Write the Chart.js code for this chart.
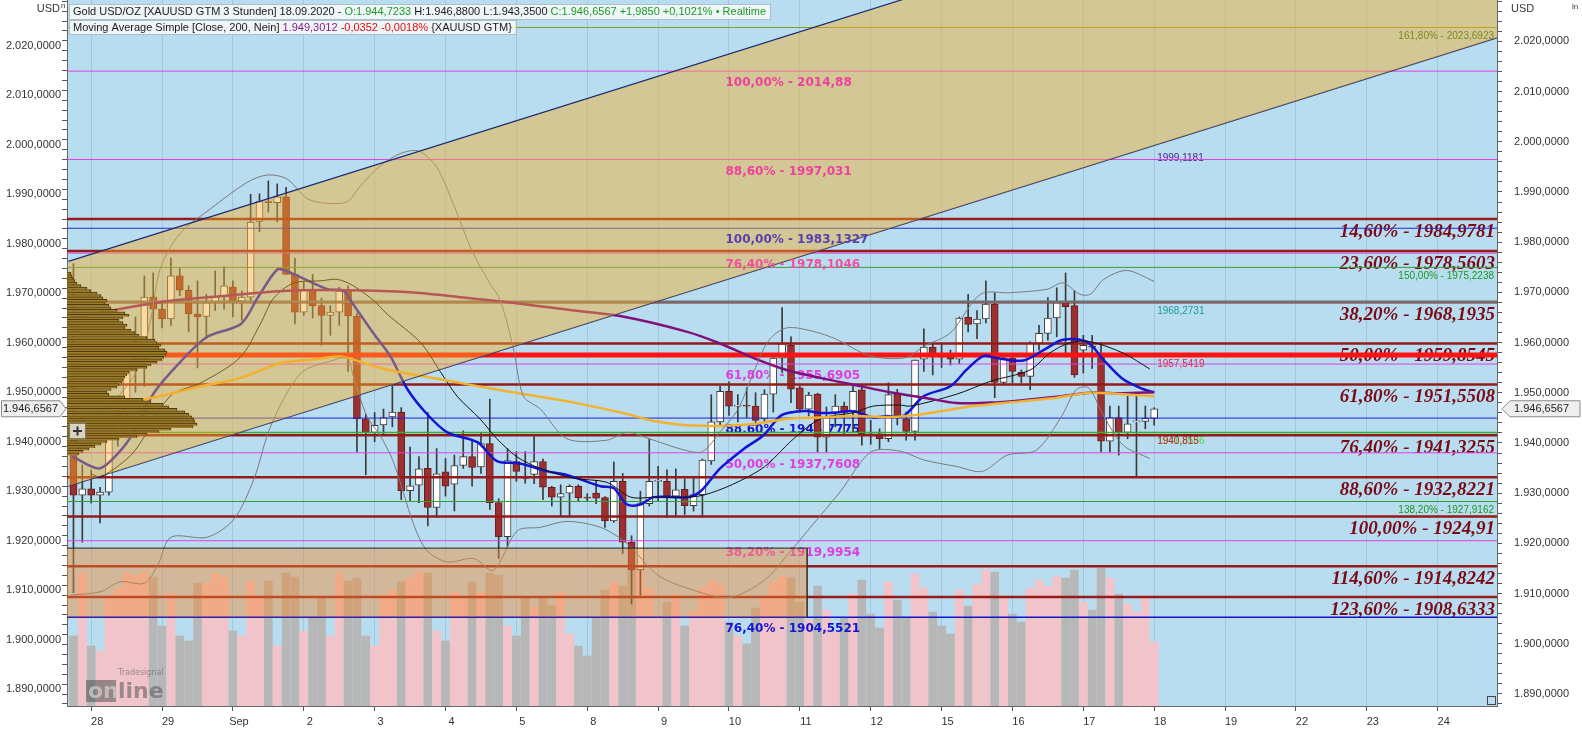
<!DOCTYPE html>
<html>
<head>
<meta charset="utf-8">
<script src="https://cdn.jsdelivr.net/npm/chart.js@4.4.0/dist/chart.umd.min.js"></script>
<style>
html, body { margin: 0; padding: 0; background: #fff; }
canvas { display: block; }
</style>
</head>
<body>
<canvas id="chart" width="1582" height="733"></canvas>
<script>
var dayLabels = ['28', '29', 'Sep', '2', '3', '4', '5', '8', '9', '10', '11', '12', '15', '16', '17', '18', '19', '22', '23', '24']
var dayTicks = [2, 10, 18, 26, 34, 42, 50, 58, 66, 74, 82, 90, 98, 106, 114, 122, 130, 138, 146, 154]

// 3h candles, XAUUSD
var opens = [
  1940.3, 1929.2, 1930.5, 1929.2, 1929.8, 1941.0, 1945.6, 1956.2, 1956.8, 1969.2,
  1966.8, 1964.8, 1973.5, 1970.6, 1965.8, 1965.3, 1968.1, 1969.3, 1971.3, 1968.4,
  1969.2, 1984.5, 1988.5, 1988.3, 1989.5, 1973.8, 1966.2, 1970.8, 1967.5, 1965.5,
  1966.2, 1970.5, 1965.4, 1944.6, 1941.9, 1943.4, 1945.0, 1946.0, 1930.1, 1931.2,
  1934.6, 1926.7, 1933.9, 1931.4, 1935.2, 1937.0, 1934.9, 1939.6, 1927.7, 1920.8,
  1936.0, 1933.0, 1933.4, 1936.0, 1930.8, 1928.8, 1929.6, 1931.0, 1928.8, 1929.6,
  1928.7, 1924.0, 1932.0, 1919.7, 1914.1, 1927.5, 1932.0, 1932.0, 1929.0, 1930.4,
  1927.1, 1929.3, 1936.1, 1944.0, 1950.2, 1947.2, 1947.3, 1947.2, 1944.6, 1949.6,
  1956.9, 1959.5, 1950.9, 1946.6, 1949.6, 1940.9, 1945.9, 1947.2, 1946.2, 1950.5,
  1941.6, 1941.6, 1940.6, 1949.6, 1944.6, 1942.1, 1956.7, 1959.1, 1957.2, 1957.8,
  1956.7, 1965.2, 1963.8, 1964.8, 1967.8, 1952.0, 1956.9, 1954.0, 1953.2, 1959.9,
  1961.9, 1965.0, 1968.3, 1967.5, 1958.5, 1959.3, 1957.8, 1940.1, 1944.9, 1941.9,
  1944.0, 1944.1, 1944.7233
]
var highs = [
  1976.0, 1935.3, 1934.3, 1930.8, 1941.5, 1946.6, 1958.0, 1965.2, 1973.5, 1974.1,
  1968.5, 1977.1, 1975.0, 1971.5, 1972.5, 1969.8, 1974.5, 1975.4, 1972.5, 1970.5,
  1990.0, 1990.1, 1992.7, 1992.1, 1991.4, 1977.1, 1972.3, 1973.8, 1969.0, 1967.5,
  1971.2, 1971.5, 1966.0, 1945.5, 1945.9, 1946.6, 1951.2, 1946.9, 1938.9, 1937.0,
  1945.9, 1938.6, 1936.6, 1937.3, 1942.2, 1940.3, 1941.9, 1948.6, 1928.5, 1938.6,
  1938.0, 1938.0, 1941.4, 1936.5, 1931.0, 1931.3, 1931.3, 1931.3, 1929.5, 1932.2,
  1928.9, 1935.9, 1933.6, 1921.0, 1930.0, 1940.6, 1935.0, 1934.3, 1934.5, 1932.5,
  1932.6, 1936.5, 1949.5, 1951.2, 1952.1, 1949.5, 1950.9, 1949.9, 1950.5, 1957.8,
  1967.1, 1961.2, 1951.2, 1950.0, 1949.8, 1947.0, 1949.5, 1948.0, 1951.3, 1951.0,
  1944.3, 1942.6, 1951.9, 1950.6, 1946.0, 1956.5, 1962.8, 1959.8, 1959.8, 1958.5,
  1965.2, 1969.8, 1966.5, 1972.5, 1970.1, 1957.5, 1957.2, 1954.5, 1960.2, 1963.5,
  1969.1, 1971.1, 1974.1, 1970.5, 1961.5, 1961.5, 1960.1, 1947.2, 1947.2, 1949.2,
  1949.2, 1947.2, 1946.88
]
var lows = [
  1909.5, 1919.7, 1927.6, 1923.6, 1929.2, 1939.1, 1944.5, 1950.0, 1951.2, 1960.8,
  1963.0, 1963.5, 1969.5, 1962.2, 1954.9, 1960.8, 1966.5, 1966.8, 1965.2, 1964.5,
  1968.3, 1982.4, 1986.4, 1984.4, 1973.8, 1963.8, 1965.5, 1965.0, 1959.5, 1961.5,
  1963.5, 1954.2, 1937.9, 1933.3, 1940.0, 1941.5, 1943.0, 1928.3, 1928.0, 1927.7,
  1923.0, 1924.7, 1929.0, 1926.0, 1934.6, 1931.0, 1933.6, 1926.3, 1916.4, 1918.8,
  1932.0, 1931.6, 1931.5, 1928.3, 1927.0, 1925.0, 1925.0, 1928.0, 1928.0, 1927.5,
  1922.7, 1923.7, 1917.4, 1907.2, 1909.0, 1927.0, 1928.0, 1924.7, 1925.0, 1925.3,
  1926.0, 1924.8, 1935.4, 1943.3, 1945.3, 1944.0, 1944.9, 1943.3, 1943.9, 1946.0,
  1953.9, 1947.9, 1945.9, 1945.2, 1937.9, 1937.9, 1943.0, 1941.5, 1942.0, 1939.3,
  1939.5, 1938.6, 1940.0, 1943.4, 1940.3, 1940.3, 1954.2, 1953.5, 1955.0, 1955.5,
  1955.8, 1962.2, 1960.8, 1964.0, 1948.9, 1951.5, 1951.9, 1951.9, 1950.5, 1958.5,
  1960.5, 1961.2, 1957.2, 1953.0, 1953.9, 1954.8, 1937.9, 1937.9, 1937.3, 1940.6,
  1932.9, 1942.6, 1943.35
]
var closes = [
  1929.2, 1930.5, 1929.2, 1929.8, 1940.9, 1945.4, 1956.2, 1956.8, 1969.2, 1966.8,
  1964.8, 1973.5, 1970.6, 1965.8, 1965.2, 1968.1, 1969.3, 1971.5, 1968.2, 1969.2,
  1984.4, 1988.5, 1988.3, 1989.5, 1973.8, 1966.2, 1970.8, 1967.5, 1965.5, 1966.2,
  1970.5, 1965.4, 1944.6, 1941.9, 1943.3, 1944.9, 1946.0, 1930.1, 1931.1, 1934.5,
  1926.7, 1933.5, 1931.0, 1935.2, 1937.0, 1934.8, 1939.6, 1927.7, 1920.8, 1936.2,
  1934.0, 1932.6, 1936.0, 1930.8, 1928.8, 1929.5, 1931.0, 1928.7, 1928.6, 1928.6,
  1924.0, 1932.0, 1919.7, 1914.1, 1927.5, 1932.0, 1932.1, 1929.0, 1930.3, 1927.1,
  1929.3, 1936.3, 1944.0, 1950.2, 1947.2, 1947.3, 1947.2, 1944.3, 1949.6, 1956.9,
  1959.8, 1950.6, 1946.6, 1949.4, 1940.9, 1944.9, 1947.2, 1945.9, 1950.2, 1941.6,
  1941.4, 1940.6, 1949.5, 1945.2, 1942.1, 1956.5, 1959.1, 1957.2, 1957.1, 1956.7,
  1965.0, 1963.7, 1964.8, 1967.8, 1952.0, 1956.9, 1954.2, 1953.2, 1959.9, 1961.9,
  1965.0, 1968.1, 1967.3, 1953.5, 1959.5, 1959.1, 1940.1, 1944.9, 1941.9, 1943.6,
  1944.1, 1944.7, 1946.6567
]
var volumes = [
  70, 133, 60, 55, 109, 118, 133, 131, 135, 129,
  80, 113, 70, 65, 123, 123, 133, 129, 75, 70,
  125, 109, 125, 60, 133, 129, 75, 89, 109, 70,
  133, 125, 128, 70, 60, 111, 116, 124, 128, 134,
  133, 75, 65, 114, 108, 124, 114, 133, 131, 80,
  70, 108, 99, 108, 101, 114, 72, 60, 50, 89,
  116, 124, 120, 138, 135, 118, 90, 104, 112, 80,
  95, 118, 126, 122, 84, 70, 62, 98, 110, 124,
  130, 128, 104, 86, 120, 96, 74, 88, 112, 126,
  92, 78, 124, 106, 88, 132, 118, 94, 80, 72,
  116, 100, 122, 136, 134, 110, 92, 84, 118, 126,
  120, 130, 128, 136, 104, 96, 138, 128, 112, 102,
  94, 110, 64
]

// volume profile (left)
var profilePrices = [
  1974.0, 1973.5, 1973.0, 1972.5, 1972.0, 1971.5, 1971.0, 1970.5, 1970.0, 1969.5,
  1969.0, 1968.5, 1968.0, 1967.5, 1967.0, 1966.5, 1966.0, 1965.5, 1965.0, 1964.5,
  1964.0, 1963.5, 1963.0, 1962.5, 1962.0, 1961.5, 1961.0, 1960.5, 1960.0, 1959.5,
  1959.0, 1958.5, 1958.0, 1957.5, 1957.0, 1956.5, 1956.0, 1955.5, 1955.0, 1954.5,
  1954.0, 1953.5, 1953.0, 1952.5, 1952.0, 1951.5, 1951.0, 1950.5, 1950.0, 1949.5,
  1949.0, 1948.5, 1948.0, 1947.5, 1947.0, 1946.5, 1946.0, 1945.5, 1945.0, 1944.5,
  1944.0, 1943.5, 1943.0, 1942.5, 1942.0, 1941.5, 1941.0, 1940.5, 1940.0, 1939.5,
  1939.0, 1938.5, 1938.0, 1937.5
]
var profileVolume = [
  4, 5, 6, 8, 10, 14, 20, 24, 30, 34,
  36, 40, 38, 42, 44, 50, 58, 62, 56, 52,
  56, 60, 58, 64, 68, 72, 80, 88, 90, 94,
  92, 98, 100, 99, 97, 95, 90, 84, 80, 70,
  62, 60, 58, 56, 55, 52, 50, 44, 40, 42,
  58, 76, 84, 96, 102, 110, 118, 122, 125, 127,
  128, 130, 126, 104, 92, 80, 70, 52, 40, 34,
  28, 22, 16, 12
]

// indicators: [bar index, price]
var smaFast = [[-0.1, 1937.0], [2.9, 1934.6], [5.0, 1937.6], [6.8, 1941.9], [9.1, 1949.9], [12.1, 1956.2], [15.1, 1961.2], [18.9, 1963.8], [20.8, 1969.1], [23.0, 1974.8], [24.0, 1974.5], [25.3, 1973.5], [28.7, 1970.8], [30.5, 1970.5], [31.3, 1968.5], [33.9, 1961.8], [35.8, 1957.2], [37.7, 1950.6], [39.9, 1945.6], [42.2, 1941.9], [45.6, 1939.9], [47.8, 1936.1], [50.4, 1935.6], [53.5, 1934.0], [55.7, 1933.3], [59.5, 1931.0], [61.0, 1930.6], [62.5, 1927.3], [64.0, 1927.3], [65.5, 1928.8], [69.3, 1928.8], [70.8, 1930.0], [73.0, 1934.6], [75.7, 1938.6], [77.9, 1941.3], [79.8, 1945.2], [81.3, 1946.0], [82.8, 1946.2], [84.3, 1945.8], [86.2, 1945.9], [87.7, 1946.2], [88.8, 1945.8], [90.3, 1944.9], [91.8, 1945.2], [93.7, 1945.2], [96.0, 1949.2], [99.0, 1951.2], [100.8, 1954.5], [102.7, 1957.3], [104.2, 1956.9], [107.2, 1956.4], [109.5, 1958.5], [111.7, 1960.6], [114.4, 1960.2], [116.3, 1956.5], [118.5, 1952.6], [120.8, 1950.6], [122, 1950.0]]
var smaSlow = [[2.0, 1933.5], [3.1, 1932.9], [6.8, 1937.9], [10.9, 1949.2], [14.4, 1951.9], [18.8, 1957.0], [21.1, 1963.8], [22.6, 1969.0], [24.9, 1972.1], [27.9, 1972.5], [29.8, 1972.8], [31.6, 1971.5], [33.9, 1968.5], [35.4, 1965.8], [39.2, 1960.0], [41.4, 1954.2], [43.3, 1949.2], [45.9, 1944.6], [47.8, 1940.6], [50.1, 1936.9], [52.7, 1934.6], [56.5, 1932.6], [60.2, 1931.8], [62.9, 1928.8], [65.5, 1928.8], [71.1, 1929.2], [77.5, 1934.3], [81.3, 1940.6], [84.3, 1944.6], [88.1, 1945.9], [90.3, 1947.2], [93.3, 1947.4], [94.5, 1947.2], [99.7, 1949.6], [103.5, 1952.2], [108, 1954.5], [110.2, 1957.9], [112.5, 1960.0], [114.8, 1960.2], [118.5, 1957.9], [121.5, 1954.7]]
var sma200 = [[-0.7, 1964.9], [9.8, 1968.2], [17.3, 1969.5], [24.1, 1970.5], [30.9, 1970.6], [38, 1970.2], [43.7, 1969.2], [50, 1968.0], [56.5, 1966.5], [62, 1965.3], [69.3, 1962.2], [73, 1959.85], [76.8, 1956.9], [80.5, 1954.5], [84.3, 1952.9], [88.1, 1951.5], [92.5, 1949.9], [96, 1948.9], [99.7, 1947.8], [103.5, 1947.9], [107.2, 1948.4], [111, 1949.1], [114.8, 1949.9], [118.5, 1949.8], [122, 1950.0]]
var smaOrange = [[-0.1, 1949.2], [3.1, 1948.2], [8, 1948.6], [14.4, 1951.2], [18.9, 1952.9], [23.4, 1955.9], [27.5, 1956.7], [30.2, 1957.2], [34.6, 1954.9], [41.4, 1952.6], [48.9, 1950.2], [56.5, 1947.9], [62.5, 1945.6], [65.5, 1944.2], [70.8, 1943.2], [76.8, 1943.6], [80.5, 1944.6], [84.3, 1944.9], [88.1, 1945.2], [92.2, 1945.0], [96, 1945.6], [101.6, 1947.2], [107.2, 1948.2], [111, 1948.9], [114.8, 1949.9], [118.5, 1949.6], [122, 1949.2]]
var bandUpper = [[0, 1944.0], [3, 1945.5], [5, 1949.0], [7.2, 1954.5], [8.7, 1964.5], [9.8, 1975.0], [12, 1982.0], [15.5, 1987.1], [19.6, 1992.4], [21.9, 1993.9], [24.1, 1993.1], [26.4, 1989.1], [28.5, 1988.2], [30.9, 1988.5], [32.4, 1991.7], [34.6, 1995.7], [37, 1998.3], [39, 1998.7], [41, 1995.5], [43, 1987.5], [45, 1978.5], [47, 1972.0], [48.2, 1968.5], [49.7, 1958.5], [50.8, 1949.2], [52.7, 1946.6], [55.7, 1940.6], [60.2, 1940.3], [62.5, 1941.9], [65, 1940.6], [69, 1938.3], [71, 1938.0], [73, 1942.0], [75, 1946.5], [77, 1955.0], [78.5, 1960.5], [80.5, 1963.0], [83.5, 1962.3], [86, 1960.8], [90, 1957.3], [94, 1957.0], [96, 1959.3], [99, 1962.0], [102.4, 1969.8], [105.7, 1970.1], [109.9, 1970.8], [111.7, 1972.1], [113.6, 1969.8], [114.8, 1969.8], [116.3, 1972.8], [118.9, 1974.6], [122, 1972.4]]
var bandLower = [[-0.3, 1909.0], [3.1, 1909.7], [5.3, 1911.7], [8, 1911.4], [9.5, 1915.0], [11, 1920.7], [15.1, 1920.7], [18.1, 1924.3], [20.4, 1932.6], [22.3, 1943.3], [25.7, 1953.9], [29.4, 1956.5], [30.9, 1956.9], [31.6, 1953.2], [33.1, 1945.2], [34.6, 1941.3], [36.1, 1936.0], [38.4, 1923.3], [39.9, 1918.0], [42.2, 1915.7], [45.2, 1916.4], [47.4, 1914.0], [50.1, 1922.0], [52.7, 1922.7], [55.7, 1923.9], [59.5, 1922.7], [62.5, 1919.4], [66, 1913.0], [70, 1910.0], [74, 1908.5], [78, 1912.0], [81, 1918.0], [83.2, 1922.7], [86.6, 1930.0], [90, 1937.9], [93.3, 1938.1], [96, 1936.3], [99.7, 1935.0], [102.6, 1934.0], [105.4, 1937.3], [108.7, 1938.3], [111.5, 1945.0], [113.2, 1950.5], [114.6, 1950.9], [116.3, 1945.2], [118.5, 1939.3], [121.5, 1936.6]]
var channelLower = [[-0.57, 1931.0], [160.7, 2021.6]]
var channelUpper = [[-0.57, 1976.45], [160.7, 2067.05]]
var zoneTop = 1918.5
var zoneBottom = 1904.55
var zoneEnd = 82.8

// horizontal levels
var levelValues = [2023.6923, 2014.88, 1997.031, 1984.9781, 1983.1327, 1978.5603, 1978.1046, 1975.2238, 1968.2731, 1968.1935, 1959.8545, 1957.5419, 1955.6905, 1951.5508, 1944.7775, 1941.8536, 1941.3255, 1937.7608, 1932.8221, 1927.9162, 1924.91, 1919.9954, 1914.8242, 1908.6333, 1904.5521]
var rightLabels = ['14,60% - 1984,9781', '23,60% - 1978,5603', '38,20% - 1968,1935', '50,00% - 1959,8545', '61,80% - 1951,5508', '76,40% - 1941,3255', '88,60% - 1932,8221', '100,00% - 1924,91', '114,60% - 1914,8242', '123,60% - 1908,6333']
var rightLabelValues = [1984.9781, 1978.5603, 1968.1935, 1959.8545, 1951.5508, 1941.3255, 1932.8221, 1924.91, 1914.8242, 1908.6333]
var midLabels = ['100,00% - 2014,88', '88,60% - 1997,031', '100,00% - 1983,1327', '76,40% - 1978,1046', '61,80% - 1955,6905', '88.60% - 1944.7775', '50,00% - 1937,7608', '38,20% - 1919,9954', '76,40% - 1904,5521']
var midLabelValues = [2014.88, 1997.031, 1983.1327, 1978.1046, 1955.6905, 1944.7775, 1937.7608, 1919.9954, 1904.5521]
var sideLabels = ['161,80% - 2023,6923', '150,00% - 1975,2238', '138,20% - 1927,9162']
var sideLabelValues = [2023.6923, 1975.2238, 1927.9162]
var lastLabels = ['1999,1181', '1968,2731', '1957,5419', '1941,8536', '1940,815']
var lastLabelValues = [1999.1181, 1968.2731, 1957.5419, 1941.8536, 1941.8536]
var lastPrice = 1946.6567

var headerLine1 = [['Gold USD/OZ [XAUUSD GTM 3 Stunden] 18.09.2020 - ', '#1a1a1a'], ['O:1.944,7233', '#1f9a1f'], [' H:1.946,8800 L:1.943,3500 ', '#1a1a1a'], ['C:1.946,6567 +1,9850 +0,1021%', '#1f9a1f'], [' \u2022 Realtime', '#1f9a1f']]
var headerLine2 = [['Moving Average Simple [Close, 200, Nein] ', '#1a1a1a'], ['1.949,3012', '#8a1a8a'], [' -0,0352 -0,0018%', '#e01010'], [' {XAUUSD GTM}', '#1a1a1a']]

// styles
var levelColors = ['#8c9c1c', '#e040e0', '#e040e0', '#951a1a', '#2828c8', '#951a1a', '#e040e0', '#3a9a3a', '#6e6e6e', '#951a1a', '#951a1a', '#ff1212', '#e040e0', '#951a1a', '#2020d0', '#30b030', '#951a1a', '#e040e0', '#951a1a', '#30a030', '#951a1a', '#e040e0', '#951a1a', '#951a1a', '#1515c0']
var levelWidths = [1, 1, 1, 2.5, 1, 2.5, 1, 1, 2.5, 2.5, 2.5, 5, 1, 2.5, 1, 1.5, 2.5, 1, 2.5, 1, 2.5, 1, 2.5, 2.5, 1.5]
var midColors = ['#f0409e', '#f0409e', '#5840b0', '#f0509e', '#e23be0', '#1414d2', '#e23be0', '#e23be0', '#1414d2']
var sideColors = ['#7a8a1a', '#1a9a1a', '#1a9a1a']
var lastColors = ['#5a2090', '#1a9a9a', '#e8203a', '#40e040', '#d02020']
var PLOT_BG = '#b9ddf0'
var MID_LABEL_AT = 73.6

function fmtPrice (v, dec) {
  var parts = v.toFixed(dec).split('.')
  return parts[0].replace(/\B(?=(\d{3})+(?!\d))/g, '.') + ',' + parts[1]
}

function toPoints (pairs) {
  return pairs.map(function (p) { return {x: p[0], y: p[1]} })
}

function channelAt (pairs, x) {
  var a = pairs[0]
  var b = pairs[1]
  return a[1] + (b[1] - a[1]) * (x - a[0]) / (b[0] - a[0])
}

function insideChannel (x, v) {
  return v > channelAt(channelLower, x) && v < channelAt(channelUpper, x)
}

function lineSet (pairs, color, width, order, extra) {
  var ds = {
    type: 'line',
    data: toPoints(pairs),
    borderColor: color,
    borderWidth: width,
    pointRadius: 0,
    fill: false,
    tension: 0,
    order: order
  }
  for (var k in extra || {}) ds[k] = extra[k]
  return ds
}

var datasets = []

// volume (dataset 0)
datasets.push({
  type: 'bar',
  yAxisID: 'yv',
  data: volumes.map(function (v, i) { return {x: i, y: v} }),
  backgroundColor: volumes.map(function (v, i) { return closes[i] >= opens[i] ? '#f2c3c8' : '#b7b7b7' }),
  barThickness: 8,
  grouped: false,
  order: 9
})

// wicks and bodies
datasets.push({
  type: 'bar',
  data: lows.map(function (l, i) { return {x: i, y: [l, highs[i]]} }),
  backgroundColor: '#3a3a3a',
  barThickness: 1,
  grouped: false,
  order: 8
})
datasets.push({
  type: 'bar',
  data: opens.map(function (o, i) { return {x: i, y: [o, closes[i]]} }),
  backgroundColor: opens.map(function (o, i) { return closes[i] >= o ? '#ffffff' : '#9c3030' }),
  borderColor: opens.map(function (o, i) { return closes[i] >= o ? '#3a3a3a' : '#6a1c1c' }),
  borderWidth: 1,
  borderSkipped: false,
  minBarLength: 1,
  barThickness: 7,
  grouped: false,
  order: 7
})

// levels
for (var i = 0; i < levelValues.length; i++) {
  datasets.push(lineSet([[-5, levelValues[i]], [170, levelValues[i]]], levelColors[i], levelWidths[i], 6))
}

// moving averages and bands
datasets.push(lineSet(bandUpper, '#7a7a7a', 1, 5, {tension: 0.3}))
datasets.push(lineSet(bandLower, '#7a7a7a', 1, 5, {tension: 0.3}))
datasets.push(lineSet(smaOrange, '#f2b230', 2.5, 5, {tension: 0.3}))
datasets.push(lineSet(sma200, '#80107a', 2.5, 5, {tension: 0.3}))
datasets.push(lineSet(smaSlow, '#111111', 1, 5, {tension: 0.3}))
datasets.push(lineSet(smaFast, '#1414d2', 2.5, 5, {tension: 0.3}))

// zone box at the bottom
datasets.push(lineSet([[-5, zoneTop], [zoneEnd, zoneTop]], '#222222', 1, 3, {fill: '+1', backgroundColor: 'rgba(240,140,50,0.45)'}))
datasets.push(lineSet([[-5, zoneBottom], [zoneEnd, zoneBottom]], '#1515c0', 1.5, 3))
datasets.push(lineSet([[zoneEnd, zoneTop], [zoneEnd, zoneBottom]], '#222222', 1, 3))

// trend channel
datasets.push(lineSet(channelUpper, '#1c2a70', 1.2, 1, {fill: '+1', backgroundColor: 'rgba(244,174,43,0.46)'}))
datasets.push(lineSet(channelLower, '#1c2a70', 1.2, 2))

// volume profile
datasets.push({
  type: 'bar',
  indexAxis: 'y',
  xAxisID: 'xp',
  yAxisID: 'y',
  data: profilePrices.map(function (p, i) { return {x: profileVolume[i], y: p} }),
  backgroundColor: '#9c7c2a',
  borderColor: '#4e3a0a',
  borderWidth: {top: 1, right: 1, bottom: 0, left: 0},
  borderSkipped: false,
  barThickness: 2.5,
  grouped: false,
  order: 0
})

function yTicks (scale) {
  var t = []
  for (var v = 1888; v <= 2028; v += 2) t.push({value: v})
  scale.ticks = t
}

function yLabel (v) {
  return v % 10 === 0 ? fmtPrice(v, 4) : ''
}

var tickFont = {family: 'Liberation Sans', size: 11}

var bgPlugin = {
  id: 'bg',
  beforeDraw: function (chart) {
    var ctx = chart.ctx
    var a = chart.chartArea
    ctx.save()
    ctx.fillStyle = '#ffffff'
    ctx.fillRect(0, 0, chart.width, chart.height)
    ctx.fillStyle = PLOT_BG
    ctx.fillRect(a.left, a.top, a.right - a.left, a.bottom - a.top)
    ctx.restore()
  }
}

function clipArea (chart) {
  var a = chart.chartArea
  chart.ctx.beginPath()
  chart.ctx.rect(a.left, a.top, a.right - a.left, a.bottom - a.top)
  chart.ctx.clip()
}

// onTop: labels that sit inside the channel are painted after the overlay
function drawMidLabels (chart, onTop) {
  var ctx = chart.ctx
  var ys = chart.scales.y
  var px = chart.scales.x.getPixelForValue(MID_LABEL_AT)
  ctx.textAlign = 'left'
  ctx.textBaseline = 'middle'
  ctx.font = 'bold 12px "DejaVu Sans"'
  for (var i = 0; i < midLabels.length; i++) {
    if (insideChannel(MID_LABEL_AT + 8, midLabelValues[i]) !== onTop) continue
    ctx.fillStyle = midColors[i]
    ctx.fillText(midLabels[i], px, ys.getPixelForValue(midLabelValues[i]) + 12)
  }
}

var labelPlugin = {
  id: 'levelLabels',
  afterDatasetDraw: function (chart, args) {
    if (args.index !== 0) return
    var ctx = chart.ctx
    var a = chart.chartArea
    var ys = chart.scales.y
    var xs = chart.scales.x
    var i
    ctx.save()
    clipArea(chart)
    drawMidLabels(chart, false)

    ctx.textAlign = 'right'
    ctx.font = 'italic bold 19px "Liberation Serif"'
    ctx.fillStyle = '#7a0a16'
    for (i = 0; i < rightLabels.length; i++) {
      ctx.fillText(rightLabels[i], a.right - 2, ys.getPixelForValue(rightLabelValues[i]) + 13)
    }

    ctx.font = '10px "Liberation Sans"'
    for (i = 1; i < sideLabels.length; i++) {
      ctx.fillStyle = sideColors[i]
      ctx.fillText(sideLabels[i], a.right - 3, ys.getPixelForValue(sideLabelValues[i]) + 9)
    }

    ctx.textAlign = 'left'
    for (i = 0; i < lastLabels.length; i++) {
      ctx.fillStyle = lastColors[i]
      ctx.fillText(lastLabels[i], xs.getPixelForValue(122) + 3, ys.getPixelForValue(lastLabelValues[i]) + 9)
    }
    ctx.restore()
  },
  afterDatasetsDraw: function (chart) {
    var ctx = chart.ctx
    var a = chart.chartArea
    ctx.save()
    clipArea(chart)
    drawMidLabels(chart, true)
    ctx.textAlign = 'right'
    ctx.textBaseline = 'middle'
    ctx.font = '10px "Liberation Sans"'
    ctx.fillStyle = sideColors[0]
    ctx.fillText(sideLabels[0], a.right - 3, chart.scales.y.getPixelForValue(sideLabelValues[0]) + 9)
    ctx.restore()
  }
}

function drawSegments (ctx, segs, x, y) {
  for (var i = 0; i < segs.length; i++) {
    ctx.fillStyle = segs[i][1]
    ctx.fillText(segs[i][0], x, y)
    x += ctx.measureText(segs[i][0]).width
  }
  return x
}

function segWidth (ctx, segs) {
  var w = 0
  for (var i = 0; i < segs.length; i++) w += ctx.measureText(segs[i][0]).width
  return w
}

var overlayPlugin = {
  id: 'overlay',
  afterDraw: function (chart) {
    var ctx = chart.ctx
    var a = chart.chartArea
    var py = chart.scales.y.getPixelForValue(lastPrice)
    ctx.save()

    // header
    ctx.font = '11px "Liberation Sans"'
    ctx.textBaseline = 'middle'
    ctx.textAlign = 'left'
    var w1 = segWidth(ctx, headerLine1)
    var w2 = segWidth(ctx, headerLine2)
    ctx.fillStyle = 'rgba(246,249,251,0.88)'
    ctx.strokeStyle = 'rgba(170,185,195,0.9)'
    ctx.lineWidth = 1
    ctx.fillRect(a.left + 2, 4, w1 + 8, 15)
    ctx.strokeRect(a.left + 2.5, 4.5, w1 + 8, 15)
    ctx.fillRect(a.left + 2, 20, w2 + 8, 14)
    ctx.strokeRect(a.left + 2.5, 20.5, w2 + 8, 14)
    drawSegments(ctx, headerLine1, a.left + 6, 12)
    drawSegments(ctx, headerLine2, a.left + 6, 27.5)

    // USD captions
    ctx.fillStyle = '#333'
    ctx.textAlign = 'right'
    ctx.fillText('USD', 60, 9)
    ctx.textAlign = 'left'
    ctx.fillText('USD', a.right + 14, 9)
    ctx.font = '8px "Liberation Sans"'
    ctx.fillText('n', 61, 6)
    ctx.fillText('ln', 1572, 7)

    // last price boxes
    ctx.font = '11px "Liberation Sans"'
    ctx.strokeStyle = '#8a8a8a'
    ctx.fillStyle = '#eeeeee'
    ctx.beginPath()
    ctx.moveTo(1.5, py - 8)
    ctx.lineTo(60, py - 8)
    ctx.lineTo(66, py)
    ctx.lineTo(60, py + 8)
    ctx.lineTo(1.5, py + 8)
    ctx.closePath()
    ctx.fill()
    ctx.stroke()
    ctx.beginPath()
    ctx.moveTo(a.right + 5, py)
    ctx.lineTo(a.right + 13, py - 8)
    ctx.lineTo(1580, py - 8)
    ctx.lineTo(1580, py + 8)
    ctx.lineTo(a.right + 13, py + 8)
    ctx.closePath()
    ctx.fill()
    ctx.stroke()
    ctx.fillStyle = '#222'
    ctx.textAlign = 'right'
    ctx.fillText(fmtPrice(lastPrice, 4), 58, py + 0.5)
    ctx.textAlign = 'left'
    ctx.fillText(fmtPrice(lastPrice, 4), a.right + 17, py + 0.5)

    // plus button
    ctx.fillStyle = '#d9d3bd'
    ctx.strokeStyle = '#777'
    ctx.fillRect(a.left + 2, 423, 16, 15)
    ctx.strokeRect(a.left + 2.5, 423.5, 16, 15)
    ctx.strokeStyle = '#333'
    ctx.lineWidth = 2
    ctx.beginPath()
    ctx.moveTo(a.left + 6, 431)
    ctx.lineTo(a.left + 15, 431)
    ctx.moveTo(a.left + 10.5, 426.5)
    ctx.lineTo(a.left + 10.5, 435.5)
    ctx.stroke()

    // watermark
    ctx.fillStyle = 'rgba(80,80,80,0.55)'
    ctx.fillRect(86, 680, 30, 22)
    ctx.font = 'bold 22px "DejaVu Sans"'
    ctx.fillStyle = 'rgba(200,200,200,0.8)'
    ctx.fillText('on', 88, 692)
    ctx.fillStyle = 'rgba(85,85,85,0.55)'
    ctx.fillText('line', 118, 692)
    ctx.font = '8px "DejaVu Sans"'
    ctx.fillText('Tradesignal', 118, 673)

    // corner mark
    ctx.strokeStyle = '#444'
    ctx.lineWidth = 1
    ctx.strokeRect(a.right - 9.5, a.bottom - 9.5, 8, 8)
    ctx.restore()
  }
}

var ctx = document.getElementById('chart').getContext('2d')
var chart = new Chart(ctx, {
  type: 'bar',
  data: {datasets: datasets},
  plugins: [bgPlugin, labelPlugin, overlayPlugin],
  options: {
    responsive: false,
    animation: false,
    devicePixelRatio: 1,
    events: [],
    layout: {padding: 0},
    plugins: {legend: {display: false}, tooltip: {enabled: false}},
    scales: {
      x: {
        type: 'linear',
        position: 'bottom',
        min: -0.73,
        max: 160.7,
        offset: false,
        afterBuildTicks: function (scale) {
          scale.ticks = dayTicks.map(function (v) { return {value: v} })
        },
        afterFit: function (scale) {
          scale.height = 27
          scale.paddingLeft = 0
          scale.paddingRight = 0
        },
        ticks: {
          autoSkip: false,
          maxRotation: 0,
          labelOffset: 6,
          padding: 4,
          color: '#333',
          font: tickFont,
          callback: function (v, idx) { return dayLabels[idx] }
        },
        grid: {offset: false, color: '#a3c7dd', tickColor: '#555', tickLength: 5},
        border: {color: '#666'}
      },
      y: {
        type: 'linear',
        position: 'left',
        min: 1887.6,
        max: 2028.25,
        afterBuildTicks: yTicks,
        afterFit: function (scale) {
          scale.width = 67
          scale.paddingTop = 0
          scale.paddingBottom = 0
        },
        ticks: {autoSkip: false, padding: 1, color: '#333', font: tickFont, callback: yLabel},
        grid: {drawOnChartArea: false, tickColor: '#555', tickLength: 5},
        border: {color: '#666'}
      },
      y2: {
        type: 'linear',
        position: 'right',
        min: 1887.6,
        max: 2028.25,
        afterBuildTicks: yTicks,
        afterFit: function (scale) {
          scale.width = 85
          scale.paddingTop = 0
          scale.paddingBottom = 0
        },
        ticks: {autoSkip: false, padding: 12, color: '#333', font: tickFont, callback: yLabel},
        grid: {drawOnChartArea: false, tickColor: '#555', tickLength: 5},
        border: {color: '#666'}
      },
      xp: {type: 'linear', display: false, min: 0, max: 1430, offset: false},
      yv: {type: 'linear', display: false, min: 0, max: 706}
    }
  }
})
</script>
</body>
</html>
